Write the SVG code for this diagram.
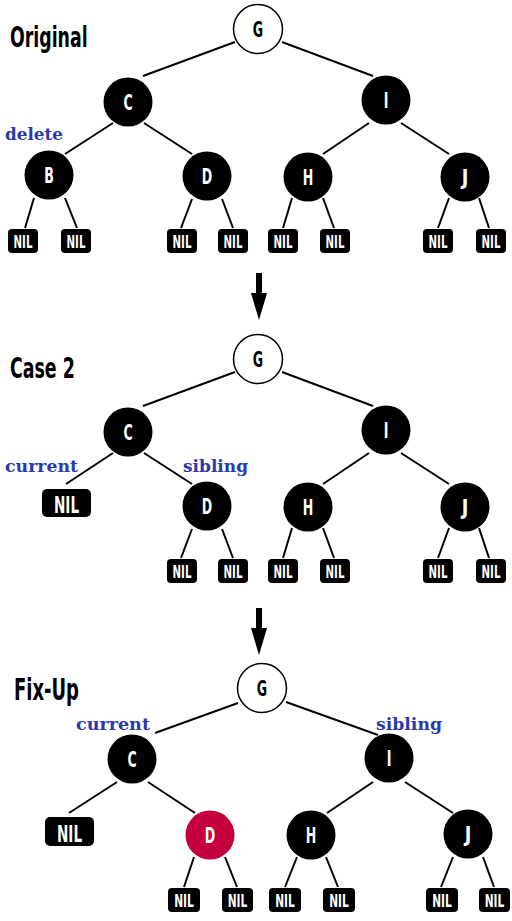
<svg xmlns="http://www.w3.org/2000/svg" width="512" height="921" viewBox="0 0 512 921">
<style>
.bk{fill:#000}
.wh{fill:#fff;stroke:#000;stroke-width:1.5}
.rd{fill:#c4003d}
.sans{font-family:"DejaVu Sans","Liberation Sans",sans-serif;font-weight:bold}
.nl{font-size:21px;fill:#fff;text-anchor:middle}
.nlw{fill:#000}
.nil{fill:#000}
.ns{font-size:18px;fill:#fff;text-anchor:middle}
.nb{font-size:23px;fill:#fff;text-anchor:middle}
.ttl{fill:#000}
.note{font-family:"DejaVu Serif","Liberation Serif",serif;font-weight:bold;font-size:17px;fill:#2a3aad}
.edges line{stroke:#000;stroke-width:2;stroke-linecap:butt}
</style>

<!-- titles and notes -->
<text class="sans ttl" font-size="28" transform="translate(10,47) scale(0.62,1)">Original</text>
<text class="sans ttl" font-size="29" transform="translate(10,378) scale(0.6,1)">Case 2</text>
<text class="sans ttl" font-size="30" transform="translate(14,700) scale(0.6,1)">Fix-Up</text>
<text class="note" x="5" y="140" textLength="58" lengthAdjust="spacingAndGlyphs">delete</text>
<text class="note" x="5" y="472" textLength="73" lengthAdjust="spacingAndGlyphs">current</text>
<text class="note" x="183" y="472" textLength="65" lengthAdjust="spacingAndGlyphs">sibling</text>
<text class="note" x="76" y="730" textLength="74" lengthAdjust="spacingAndGlyphs">current</text>
<text class="note" x="376" y="730" textLength="66" lengthAdjust="spacingAndGlyphs">sibling</text>

<!-- connectors -->
<g id="connectors" class="edges">
  <!-- section 1 -->
  <line x1="235" y1="42" x2="143" y2="76"/>
  <line x1="282" y1="42" x2="373" y2="76"/>
  <line x1="113" y1="123" x2="65" y2="154"/>
  <line x1="144" y1="123" x2="192" y2="154"/>
  <line x1="369" y1="123" x2="323" y2="154"/>
  <line x1="401" y1="123" x2="449" y2="154"/>
  <line x1="34" y1="198" x2="25" y2="228"/>
  <line x1="65" y1="198" x2="77" y2="228"/>
  <line x1="192" y1="199" x2="181" y2="228"/>
  <line x1="222" y1="199" x2="233" y2="228"/>
  <line x1="292" y1="198" x2="283" y2="228"/>
  <line x1="323" y1="198" x2="334" y2="228"/>
  <line x1="449" y1="198" x2="438" y2="228"/>
  <line x1="479" y1="198" x2="489" y2="228"/>
  <!-- section 2 -->
  <line x1="235" y1="372" x2="143" y2="406"/>
  <line x1="282" y1="372" x2="373" y2="406"/>
  <line x1="113" y1="453" x2="66" y2="484"/>
  <line x1="144" y1="453" x2="192" y2="484"/>
  <line x1="369" y1="453" x2="323" y2="484"/>
  <line x1="401" y1="453" x2="449" y2="484"/>
  <line x1="192" y1="529" x2="181" y2="558"/>
  <line x1="222" y1="529" x2="233" y2="558"/>
  <line x1="292" y1="528" x2="283" y2="558"/>
  <line x1="323" y1="528" x2="334" y2="558"/>
  <line x1="449" y1="528" x2="438" y2="558"/>
  <line x1="479" y1="528" x2="489" y2="558"/>
  <!-- section 3 -->
  <line x1="238" y1="703" x2="155" y2="733"/>
  <line x1="286" y1="702" x2="378" y2="735"/>
  <line x1="117" y1="782" x2="69" y2="813"/>
  <line x1="148" y1="782" x2="195" y2="813"/>
  <line x1="373" y1="782" x2="327" y2="813"/>
  <line x1="405" y1="782" x2="453" y2="813"/>
  <line x1="194" y1="857" x2="184" y2="887"/>
  <line x1="225" y1="857" x2="237" y2="887"/>
  <line x1="297" y1="857" x2="285" y2="887"/>
  <line x1="326" y1="857" x2="338" y2="887"/>
  <line x1="453" y1="857" x2="441" y2="887"/>
  <line x1="483" y1="857" x2="494" y2="887"/>
  <!-- transition arrows -->
  <rect x="256" y="273" width="6" height="21" class="bk"/>
  <polygon points="251,293 267,293 259,320" class="bk"/>
  <rect x="256" y="608" width="6" height="21" class="bk"/>
  <polygon points="251,628 267,628 259,655" class="bk"/>
</g>

<!-- section 1 nodes -->
<g id="s1-G"><circle cx="258" cy="29" r="24.5" class="wh"/><text class="sans nl nlw" transform="translate(258,37) scale(0.6,1)">G</text></g>
<g id="s1-C"><circle cx="128" cy="102" r="24.5" class="bk"/><text class="sans nl" transform="translate(128,110) scale(0.6,1)">C</text></g>
<g id="s1-I"><circle cx="386" cy="100" r="24.5" class="bk"/><text class="sans nl" transform="translate(386,108) scale(0.6,1)">I</text></g>
<g id="s1-B"><circle cx="49" cy="175" r="24.5" class="bk"/><text class="sans nl" transform="translate(49,183) scale(0.6,1)">B</text></g>
<g id="s1-D"><circle cx="207" cy="176" r="24.5" class="bk"/><text class="sans nl" transform="translate(207,184) scale(0.6,1)">D</text></g>
<g id="s1-H"><circle cx="308" cy="177" r="24.5" class="bk"/><text class="sans nl" transform="translate(308,185) scale(0.6,1)">H</text></g>
<g id="s1-J"><circle cx="465" cy="177" r="24.5" class="bk"/><text class="sans nl" transform="translate(465,185) scale(0.85,1)">J</text></g>
<g id="s1-nil1"><rect x="8" y="229" width="30" height="24" rx="4" class="nil"/><text class="sans ns" transform="translate(23,248) scale(0.57,1)">NIL</text></g>
<g id="s1-nil2"><rect x="61" y="229" width="30" height="24" rx="4" class="nil"/><text class="sans ns" transform="translate(76,248) scale(0.57,1)">NIL</text></g>
<g id="s1-nil3"><rect x="167" y="229" width="30" height="24" rx="4" class="nil"/><text class="sans ns" transform="translate(182,248) scale(0.57,1)">NIL</text></g>
<g id="s1-nil4"><rect x="218" y="229" width="30" height="24" rx="4" class="nil"/><text class="sans ns" transform="translate(233,248) scale(0.57,1)">NIL</text></g>
<g id="s1-nil5"><rect x="268" y="229" width="30" height="24" rx="4" class="nil"/><text class="sans ns" transform="translate(283,248) scale(0.57,1)">NIL</text></g>
<g id="s1-nil6"><rect x="320" y="229" width="30" height="24" rx="4" class="nil"/><text class="sans ns" transform="translate(335,248) scale(0.57,1)">NIL</text></g>
<g id="s1-nil7"><rect x="423" y="229" width="30" height="24" rx="4" class="nil"/><text class="sans ns" transform="translate(438,248) scale(0.57,1)">NIL</text></g>
<g id="s1-nil8"><rect x="476" y="229" width="30" height="24" rx="4" class="nil"/><text class="sans ns" transform="translate(491,248) scale(0.57,1)">NIL</text></g>

<!-- section 2 nodes -->
<g id="s2-G"><circle cx="258" cy="359" r="24.5" class="wh"/><text class="sans nl nlw" transform="translate(258,367) scale(0.6,1)">G</text></g>
<g id="s2-C"><circle cx="128" cy="432" r="24.5" class="bk"/><text class="sans nl" transform="translate(128,440) scale(0.6,1)">C</text></g>
<g id="s2-I"><circle cx="386" cy="430" r="24.5" class="bk"/><text class="sans nl" transform="translate(386,438) scale(0.6,1)">I</text></g>
<g id="s2-nil0"><rect x="42" y="489" width="49" height="28" rx="5" class="nil"/><text class="sans nb" transform="translate(66.5,513) scale(0.59,1)">NIL</text></g>
<g id="s2-D"><circle cx="207" cy="506" r="24.5" class="bk"/><text class="sans nl" transform="translate(207,514) scale(0.6,1)">D</text></g>
<g id="s2-H"><circle cx="308" cy="507" r="24.5" class="bk"/><text class="sans nl" transform="translate(308,515) scale(0.6,1)">H</text></g>
<g id="s2-J"><circle cx="465" cy="507" r="24.5" class="bk"/><text class="sans nl" transform="translate(465,515) scale(0.85,1)">J</text></g>
<g id="s2-nil3"><rect x="167" y="559" width="30" height="24" rx="4" class="nil"/><text class="sans ns" transform="translate(182,578) scale(0.57,1)">NIL</text></g>
<g id="s2-nil4"><rect x="218" y="559" width="30" height="24" rx="4" class="nil"/><text class="sans ns" transform="translate(233,578) scale(0.57,1)">NIL</text></g>
<g id="s2-nil5"><rect x="268" y="559" width="30" height="24" rx="4" class="nil"/><text class="sans ns" transform="translate(283,578) scale(0.57,1)">NIL</text></g>
<g id="s2-nil6"><rect x="320" y="559" width="30" height="24" rx="4" class="nil"/><text class="sans ns" transform="translate(335,578) scale(0.57,1)">NIL</text></g>
<g id="s2-nil7"><rect x="423" y="559" width="30" height="24" rx="4" class="nil"/><text class="sans ns" transform="translate(438,578) scale(0.57,1)">NIL</text></g>
<g id="s2-nil8"><rect x="476" y="559" width="30" height="24" rx="4" class="nil"/><text class="sans ns" transform="translate(491,578) scale(0.57,1)">NIL</text></g>

<!-- section 3 nodes -->
<g id="s3-G"><circle cx="262" cy="688" r="24.5" class="wh"/><text class="sans nl nlw" transform="translate(262,696) scale(0.6,1)">G</text></g>
<g id="s3-C"><circle cx="132" cy="759" r="24.5" class="bk"/><text class="sans nl" transform="translate(132,767) scale(0.6,1)">C</text></g>
<g id="s3-I"><circle cx="389" cy="758" r="24.5" class="bk"/><text class="sans nl" transform="translate(389,766) scale(0.6,1)">I</text></g>
<g id="s3-nil0"><rect x="45" y="817" width="49" height="29" rx="5" class="nil"/><text class="sans nb" transform="translate(69.5,842) scale(0.59,1)">NIL</text></g>
<g id="s3-D"><circle cx="210" cy="835" r="24.5" class="rd"/><text class="sans nl" transform="translate(210,843) scale(0.6,1)">D</text></g>
<g id="s3-H"><circle cx="311" cy="835" r="24.5" class="bk"/><text class="sans nl" transform="translate(311,843) scale(0.6,1)">H</text></g>
<g id="s3-J"><circle cx="468" cy="834" r="24.5" class="bk"/><text class="sans nl" transform="translate(468,842) scale(0.85,1)">J</text></g>
<g id="s3-nil3"><rect x="168" y="888" width="32" height="24" rx="4" class="nil"/><text class="sans ns" transform="translate(184,907) scale(0.59,1)">NIL</text></g>
<g id="s3-nil4"><rect x="222" y="888" width="31" height="24" rx="4" class="nil"/><text class="sans ns" transform="translate(237.5,907) scale(0.59,1)">NIL</text></g>
<g id="s3-nil5"><rect x="269" y="888" width="32" height="24" rx="4" class="nil"/><text class="sans ns" transform="translate(285,907) scale(0.59,1)">NIL</text></g>
<g id="s3-nil6"><rect x="323" y="888" width="32" height="24" rx="4" class="nil"/><text class="sans ns" transform="translate(339,907) scale(0.59,1)">NIL</text></g>
<g id="s3-nil7"><rect x="426" y="888" width="32" height="24" rx="4" class="nil"/><text class="sans ns" transform="translate(442,907) scale(0.59,1)">NIL</text></g>
<g id="s3-nil8"><rect x="479" y="888" width="31" height="24" rx="4" class="nil"/><text class="sans ns" transform="translate(494.5,907) scale(0.59,1)">NIL</text></g>
</svg>
